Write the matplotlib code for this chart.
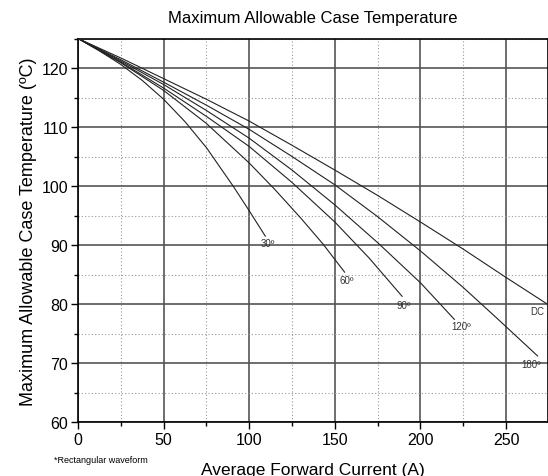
import matplotlib
matplotlib.use("Agg")
import matplotlib.pyplot as plt
from matplotlib.ticker import MultipleLocator

plt.rcParams['font.family'] = ['Liberation Sans', 'DejaVu Sans']

# Data (Average forward current A, case temp degC)
dc_x = [0, 25, 50, 75, 100, 125, 150, 175, 200, 225, 250, 274]
dc_y = [125, 121.7, 118.2, 114.7, 111.0, 106.9, 102.7, 98.4, 93.9, 89.3, 84.5, 80.0]

d180_x = [0, 25, 50, 75, 100, 125, 150, 175, 200, 225, 245, 268.4]
d180_y = [125, 121.4, 117.6, 113.7, 109.6, 105.0, 100.2, 94.8, 89.0, 82.8, 77.5, 71.2]

d120_x = [0, 25, 50, 75, 100, 125, 150, 175, 200, 219.8]
d120_y = [125, 121.2, 117.2, 112.8, 108.1, 102.7, 96.8, 90.4, 83.6, 77.4]

d90_x = [0, 25, 50, 75, 100, 125, 150, 170, 189.3]
d90_y = [125, 121.0, 116.6, 111.8, 106.7, 100.6, 93.9, 87.8, 81.3]

d60_x = [0, 25, 50, 75, 100, 115, 130, 143, 155.7]
d60_y = [125, 120.9, 116.2, 110.6, 103.9, 99.4, 94.6, 90.2, 85.4]

d30_x = [0, 12.5, 25, 37.5, 50, 62.5, 75, 90.8, 100, 109.4]
d30_y = [125, 122.9, 120.6, 117.9, 114.7, 110.9, 106.5, 99.9, 95.8, 91.5]

labels = ["30º", "60º", "90º", "120º", "180º", "DC"]
label_x = [110.7, 157.2, 190.0, 223.6, 264.4, 268.0]
label_y = [90.3, 84.1, 79.8, 76.2, 69.8, 78.8]

fig = plt.figure(figsize=(5.48, 4.77), dpi=100)
ax = fig.add_axes([78/548, 54/477, 470/548, 383.5/477])

for xs, ys in [(dc_x, dc_y), (d180_x, d180_y), (d120_x, d120_y),
               (d90_x, d90_y), (d60_x, d60_y), (d30_x, d30_y)]:
    ax.plot(xs, ys, color='#222222', lw=0.8, zorder=3)

for t, lx, ly in zip(labels, label_x, label_y):
    ax.text(lx, ly, t, fontsize=7, ha='center', va='center', color='#333333', zorder=4)

ax.set_xlim(0, 274.5)
ax.set_ylim(60, 125)
ax.xaxis.set_major_locator(MultipleLocator(50))
ax.xaxis.set_minor_locator(MultipleLocator(25))
ax.yaxis.set_major_locator(MultipleLocator(10))
ax.yaxis.set_minor_locator(MultipleLocator(5))
ax.grid(which='major', color='#555555', lw=1.2, ls='-', zorder=1)
ax.grid(which='minor', color='#999999', lw=0.8, ls=(0, (1, 2)), zorder=1)
ax.tick_params(which='major', direction='out', length=5, width=1, labelsize=11.5, pad=2)
ax.tick_params(which='minor', direction='out', length=3, width=1)
for s in ax.spines.values():
    s.set_color('black')
    s.set_linewidth(1.2)

ax.set_title("Maximum Allowable Case Temperature", fontsize=12, pad=12)
ax.set_xlabel("Average Forward Current (A)", fontsize=12.5, labelpad=11)
ax.set_ylabel("Maximum Allowable Case Temperature (ºC)", fontsize=13, labelpad=3)
fig.text(54/548, 1 - 461/477, "*Rectangular waveform", fontsize=6.5, ha='left', va='center')

fig.savefig("out.png", dpi=100)
